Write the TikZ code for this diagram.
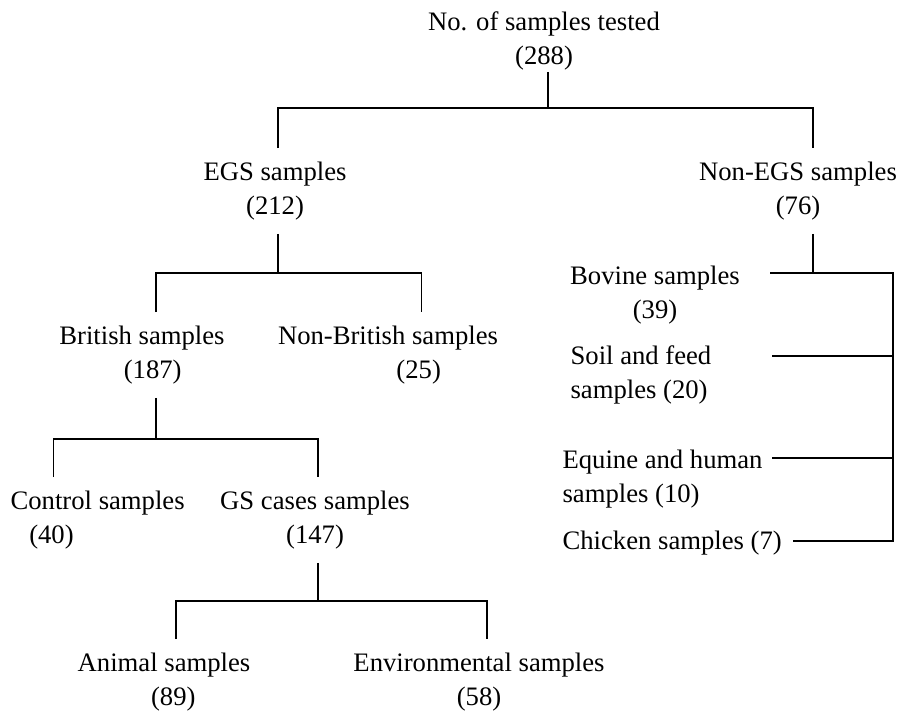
\documentclass[tikz,border=0pt]{standalone}
\usepackage{fontspec}
\setmainfont{Liberation Serif}
\usepackage{tikz}
\usetikzlibrary{positioning}

\begin{document}
\begin{tikzpicture}[x=0.75pt,y=-0.75pt,
    lbl/.style={inner sep=0pt,outer ysep=10pt,align=center,
      font=\fontsize{20}{26}\selectfont},
    lbll/.style={lbl,align=left,anchor=west},
    line width=0.9pt]
        \useasboundingbox (0,0) rectangle (904,713);
        \path
        (544,41) node[lbl,outer ysep=1pt](root) {No. of samples tested\\(288)}
        (275,191) node[lbl](egs) {EGS samples\\(212)}
        (798,191) node[lbl](nonegs) {Non-EGS samples\\(76)}
        (142,355) node[lbl](british) {British samples\\\hspace*{0.8em}(187)}
        (388,355) node[lbl](nonbrit) {Non-British samples\\\hspace*{2.3em}(25)}
        (10,520) node[lbll](control) {Control samples\\\hspace*{0.7em}(40)}
        (315,520) node[lbl](gs) {GS cases samples\\(147)}
        (164,682) node[lbl](animal) {Animal samples\\\hspace*{0.7em}(89)}
        (479,682) node[lbl](env) {Environmental samples\\(58)}
        (655,295) node[lbl](bovine) {Bovine samples\\(39)}
        (570,375) node[lbll](soil) {Soil and feed\\samples (20)}
        (562,479) node[lbll](equine) {Equine and human\\samples (10)}
        (562,543) node[lbll](chicken) {Chicken samples (7)}
        ;

        % joints of the tree
        \coordinate (j0) at (548,108);
        \coordinate (j1) at (278,273);
        \coordinate (j2) at (813,273);
        \coordinate (j3) at (156,439);
        \coordinate (j4) at (318,601);
        \coordinate (spine) at (893,273);
        \coordinate (bovend) at (770,273);
        \coordinate (soilend) at (772,356);
        \coordinate (equend) at (772,458);
        \coordinate (chkend) at (793,541);

        \draw (root.south -| j0) -- (j0);
        \draw (egs.north -| j1) |- (j0) -| (nonegs.north -| j2);
        \draw (egs.south -| j1) -- (j1);
        \draw (british.north -| j3) |- (j1) -| ([xshift=25pt]nonbrit.north);
        \draw (british.south -| j3) -- (j3);
        \draw ([xshift=-33pt]control.north) |- (j3) -| (gs.north -| j4);
        \draw (gs.south -| j4) -- (j4);
        \draw ([xshift=9pt]animal.north) |- (j4) -| ([xshift=6pt]env.north);
        \draw (nonegs.south -| j2) -- (j2);
        \draw (bovend) -- (spine) |- (chkend);
        \draw (soilend) -- (soilend -| spine);
        \draw (equend) -- (equend -| spine);
      \end{tikzpicture}
\end{document}
